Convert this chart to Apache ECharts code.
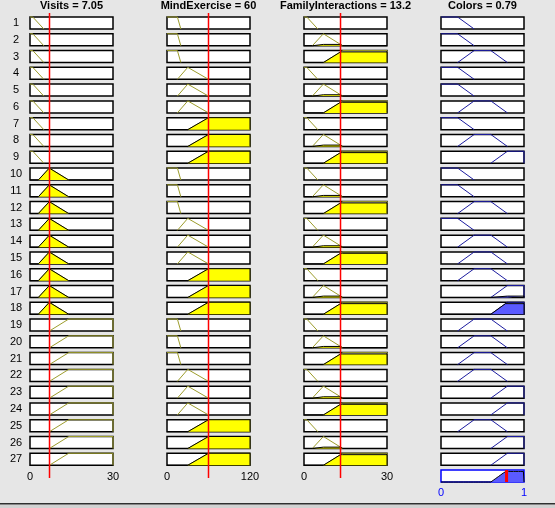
<!DOCTYPE html>
<html><head><meta charset="utf-8">
<script src="https://cdn.jsdelivr.net/npm/echarts@6/dist/echarts.min.js"></script>
<style>html,body{margin:0;padding:0;background:#e6e6e6}#c{width:555px;height:508px}</style>
</head><body><div id="c"></div><script>
// ---- data ----
const inputNames = ['Visits', 'MindExercise', 'FamilyInteractions'];
const inputValues = [7.05, 60, 13.2];
const inputRanges = [[0, 30], [0, 120], [0, 30]];
const outputName = 'Colors';
const outputValue = 0.79;
const outputRange = [0, 1];
// membership function breakpoints [x, mu]
const visitsMFs = [[[0, 1], [1, 1], [5, 0]], [[3, 0], [7, 1], [14, 0]], [[7, 0], [14, 1], [30, 1]]];
const mindMFs = [[[0, 1], [15, 1], [20, 0]], [[15, 0], [30, 1], [60, 0]], [[30, 0], [60, 1], [120, 1]]];
const familyMFs = [[[0, 1], [1, 1], [5, 0]], [[3, 0], [7, 1], [14, 0]], [[7, 0], [14, 1], [30, 1]]];
const colorsMFs = [[[0, 1], [0.2, 1], [0.4, 0]], [[0.2, 0], [0.4, 1], [0.6, 1], [0.8, 0]], [[0.6, 0], [0.8, 1], [1, 1]]];
// rule antecedents / consequents (1=low,2=medium,3=high)
const ruleVisits = [1,1,1,1,1,1,1,1,1, 2,2,2,2,2,2,2,2,2, 3,3,3,3,3,3,3,3,3];
const ruleMind   = [1,1,1,2,2,2,3,3,3, 1,1,1,2,2,2,3,3,3, 1,1,1,2,2,2,3,3,3];
const ruleFamily = [1,2,3,1,2,3,1,2,3, 1,2,3,1,2,3,1,2,3, 1,2,3,1,2,3,1,2,3];
const ruleColors = [1,1,2,1,1,2,1,2,3, 1,1,2,1,2,2,2,3,3, 2,2,2,2,3,3,2,3,3];
const tickLabels = [['0', '30'], ['0', '120'], ['0', '30'], ['0', '1']];

// ---- layout ----
const colLeft = [30, 167, 304, 441];
const colW = 83;
const rowTop0 = 17, rowStep = 16.78, rowH = 12;
const OLIVE = '#9d9d2c', YELLOW = '#ffff00', NAVY = '#1c1ca0', BLUEFILL = '#5a5aff';
const FONT = '"Liberation Sans", Arial, sans-serif';

function evalMF(bp, x) {
  if (x <= bp[0][0]) return bp[0][1];
  for (let i = 1; i < bp.length; i++) {
    if (x <= bp[i][0]) {
      const [x0, y0] = bp[i - 1], [x1, y1] = bp[i];
      return x1 === x0 ? y1 : y0 + (y1 - y0) * (x - x0) / (x1 - x0);
    }
  }
  return bp[bp.length - 1][1];
}
function fullPoly(bp, range) {
  return [[range[0], 0]].concat(bp.map(p => p.slice())).concat([[range[1], 0]]);
}
function outlinePoly(bp, range) {
  const pts = bp.map(p => p.slice());
  const lastP = pts[pts.length - 1];
  if (lastP[1] > 0 && lastP[0] >= range[1]) pts.push([range[1], 0]);
  return pts;
}
function clipPoly(poly, L) {
  const out = [];
  for (let i = 0; i < poly.length; i++) {
    const [x, y] = poly[i];
    if (i > 0) {
      const [px, py] = poly[i - 1];
      if ((py - L) * (y - L) < 0) { const t = (L - py) / (y - py); out.push([px + t * (x - px), L]); }
    }
    out.push([x, Math.min(y, L)]);
  }
  return out;
}

const inputMFs = [visitsMFs, mindMFs, familyMFs];
const ruleInputs = [ruleVisits, ruleMind, ruleFamily];
const nRules = ruleColors.length;
const strengths = [];
for (let r = 0; r < nRules; r++) {
  let s = 1;
  for (let k = 0; k < 3; k++) s = Math.min(s, evalMF(inputMFs[k][ruleInputs[k][r] - 1], inputValues[k]));
  strengths.push(s);
}

const grids = [], xAxes = [], yAxes = [], series = [], graphics = [];
function addGrid(left, top, width, height, range, opts) {
  const idx = grids.length;
  grids.push(Object.assign({left, top, width, height, containLabel: false}, opts.grid));
  xAxes.push(Object.assign({gridIndex: idx, type: 'value', min: range[0], max: range[1], show: false}, opts.x || {}));
  yAxes.push({gridIndex: idx, type: 'value', min: 0, max: 1, show: false});
  return idx;
}
const cellGrid = {show: true, backgroundColor: '#fff', borderColor: '#000', borderWidth: 1.5};
function labelAxis(range, labels, color, margin) {
  return {show: true, interval: range[1] - range[0], axisLine: {show: false}, axisTick: {show: false}, splitLine: {show: false},
    axisLabel: {show: true, margin, color, fontSize: 11, fontFamily: FONT, showMinLabel: true, showMaxLabel: true,
      formatter: v => (v === range[0] ? labels[0] : labels[1])}};
}
function addLine(idx, data, color, width, z, area) {
  const s = {type: 'line', xAxisIndex: idx, yAxisIndex: idx, data, symbol: 'none', showSymbol: false, clip: false,
    silent: true, animation: false, z, lineStyle: {color, width}};
  if (area) s.areaStyle = {color: area, opacity: 1};
  series.push(s);
}

for (let r = 0; r < nRules; r++) {
  const top = rowTop0 + r * rowStep;
  for (let k = 0; k < 3; k++) {
    const last = r === nRules - 1;
    const idx = addGrid(colLeft[k], top, colW, rowH, inputRanges[k],
      {grid: cellGrid, x: last ? labelAxis(inputRanges[k], tickLabels[k], '#000', 6) : null});
    const bp = inputMFs[k][ruleInputs[k][r] - 1];
    addLine(idx, outlinePoly(bp, inputRanges[k]), OLIVE, 1, 2);
    const mu = evalMF(bp, inputValues[k]);
    if (mu > 0.01) addLine(idx, clipPoly(fullPoly(bp, inputRanges[k]), mu), '#000', 1, 3, YELLOW);
  }
  const idx = addGrid(colLeft[3], top, colW, rowH, outputRange, {grid: cellGrid});
  const obp = colorsMFs[ruleColors[r] - 1];
  addLine(idx, outlinePoly(obp, outputRange), NAVY, 1, 2);
  if (strengths[r] > 0.01) addLine(idx, clipPoly(fullPoly(obp, outputRange), strengths[r]), '#000', 1, 3, BLUEFILL);
  graphics.push({type: 'text', x: 16, y: top + rowH / 2, silent: true,
    style: {text: String(r + 1), align: 'center', verticalAlign: 'middle', font: '11px ' + FONT, fill: '#000'}});
}

// aggregate output
const aggTop = rowTop0 + nRules * rowStep;
const aggIdx = addGrid(colLeft[3], aggTop, colW, rowH, outputRange,
  {grid: {show: true, backgroundColor: '#fff', borderColor: '#0000ff', borderWidth: 1.5},
   x: labelAxis(outputRange, tickLabels[3], '#0000ff', 5)});
const aggPts = [[outputRange[0], 0]];
for (let i = 0; i <= 400; i++) {
  const x = outputRange[0] + (outputRange[1] - outputRange[0]) * i / 400;
  let m = 0;
  for (let r = 0; r < nRules; r++) m = Math.max(m, Math.min(strengths[r], evalMF(colorsMFs[ruleColors[r] - 1], x)));
  aggPts.push([x, m]);
}
aggPts.push([outputRange[1], 0]);
addLine(aggIdx, aggPts, '#000', 1, 3, BLUEFILL);
addLine(aggIdx, [[outputValue, 0], [outputValue, 1]], '#ff0000', 3, 6);

// red input lines spanning whole column
for (let k = 0; k < 3; k++) {
  const idx = addGrid(colLeft[k], 13, colW, 465, inputRanges[k], {grid: {show: false}});
  addLine(idx, [[inputValues[k], 0], [inputValues[k], 1]], '#ff0000', 1.5, 10);
}

// titles
const titles = inputNames.map((n, k) => n + ' = ' + inputValues[k]).concat([outputName + ' = ' + outputValue]);
titles.forEach((t, k) => graphics.push({type: 'text', x: colLeft[k] + colW / 2, y: 6, silent: true,
  style: {text: t, align: 'center', verticalAlign: 'middle', font: 'bold 11px ' + FONT, fill: '#000'}}));

// bottom strip
graphics.push({type: 'rect', shape: {x: 0, y: 504.5, width: 555, height: 4}, style: {fill: '#d2d2d2'}, silent: true});
graphics.push({type: 'rect', shape: {x: 0, y: 503, width: 555, height: 1.5}, style: {fill: '#303030'}, silent: true});

const chart = echarts.init(document.getElementById('c'), null, {renderer: 'canvas'});
chart.setOption({backgroundColor: '#e6e6e6', animation: false, grid: grids, xAxis: xAxes, yAxis: yAxes, series, graphic: graphics});
</script></body></html>
